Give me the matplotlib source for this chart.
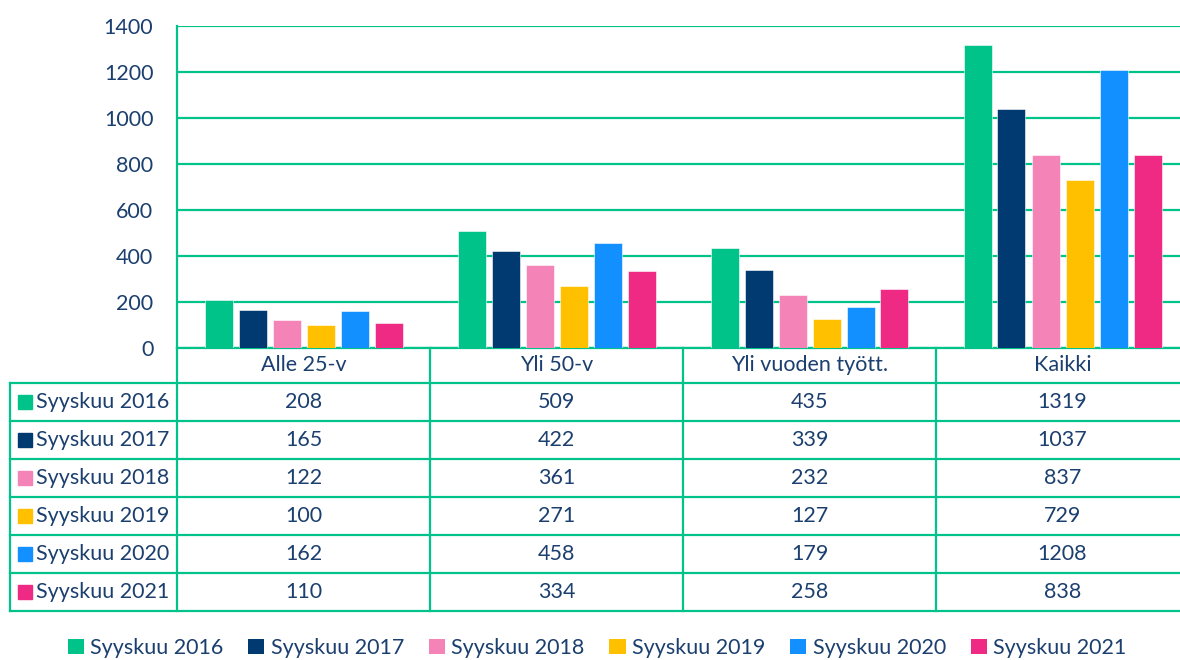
import matplotlib.pyplot as plt
from matplotlib.patches import Patch

# data
categories = ['Alle 25-v', 'Yli 50-v', 'Yli vuoden tyött.', 'Kaikki']
series_names = ['Syyskuu 2016', 'Syyskuu 2017', 'Syyskuu 2018',
                'Syyskuu 2019', 'Syyskuu 2020', 'Syyskuu 2021']
values_2016 = [208, 509, 435, 1319]
values_2017 = [165, 422, 339, 1037]
values_2018 = [122, 361, 232, 837]
values_2019 = [100, 271, 127, 729]
values_2020 = [162, 458, 179, 1208]
values_2021 = [110, 334, 258, 838]
series_values = [values_2016, values_2017, values_2018,
                 values_2019, values_2020, values_2021]
colors = ['#00C389', '#003A70', '#F484B8', '#FFC000', '#1390FF', '#EE2A84']

grid_col = '#00C389'
text_col = '#1B3F6E'
plt.rcParams['font.family'] = ['Lato', 'DejaVu Sans']
fs = 15.5

W, H = 1180, 660
def fx(px):
    return px / W
def fy(px):
    return 1 - px / H

fig = plt.figure(figsize=(11.8, 6.6), dpi=100)

# bar chart
ax = fig.add_axes([fx(177), fy(348), fx(1189) - fx(177), fy(26) - fy(348)])
step = 34 / 253
width = 28 / 253
for j, (name, vals) in enumerate(zip(series_names, series_values)):
    xs = [i + (j - 2.5) * step for i in range(len(categories))]
    ax.bar(xs, vals, width=width, color=colors[j], edgecolor='white',
           linewidth=0.4, zorder=3)
ax.set_xlim(-0.5, 3.5)
ax.set_ylim(0, 1400)
ax.set_yticks(range(0, 1401, 200))
ax.set_xticks([])
ax.tick_params(axis='y', length=0, pad=17, labelsize=fs, labelcolor=text_col)
ax.grid(axis='y', color=grid_col, linewidth=1.6, zorder=0)
for s in ['top', 'right']:
    ax.spines[s].set_visible(False)
for s in ['left', 'bottom']:
    ax.spines[s].set_color(grid_col)
    ax.spines[s].set_linewidth(1.6)

# data table
x_left = -0.5 - 167 / 253
h0 = 35 / 38
n_rows = len(series_names)
ax_t = fig.add_axes([fx(10), fy(611), fx(1189) - fx(10), fy(348) - fy(611)])
ax_t.set_xlim(x_left, 3.5)
ax_t.set_ylim(h0 + n_rows, 0)
ax_t.axis('off')
lw = 1.6
for k in range(n_rows + 1):
    ax_t.plot([x_left, 3.5], [h0 + k, h0 + k], color=grid_col, lw=lw,
              clip_on=False, solid_capstyle='projecting')
ax_t.plot([x_left, x_left], [h0, h0 + n_rows], color=grid_col, lw=lw,
          clip_on=False, solid_capstyle='projecting')
for i in range(len(categories)):
    ax_t.plot([i - 0.5, i - 0.5], [0, h0 + n_rows], color=grid_col, lw=lw,
              clip_on=False)
    ax_t.text(i, h0 / 2, categories[i], ha='center', va='center',
              fontsize=fs, color=text_col)
for r, (name, vals) in enumerate(zip(series_names, series_values)):
    yc = h0 + r + 0.5
    ax_t.plot(x_left + 14.5 / 253, yc, marker='s', ms=9.5, color=colors[r],
              clip_on=False)
    ax_t.text(x_left + 26 / 253, yc, name, ha='left', va='center',
              fontsize=fs, color=text_col)
    for i, v in enumerate(vals):
        ax_t.text(i, yc, str(v), ha='center', va='center',
                  fontsize=fs, color=text_col)

# legend
handles = [Patch(facecolor=c, edgecolor='none') for c in colors]
leg = fig.legend(handles, series_names, loc='center', ncol=6,
                 bbox_to_anchor=(0.506, fy(648)), frameon=False,
                 fontsize=fs, handlelength=0.75, handleheight=0.75,
                 handletextpad=0.3, columnspacing=1.15)
for t in leg.get_texts():
    t.set_color(text_col)

fig.savefig('out.png', dpi=100)
